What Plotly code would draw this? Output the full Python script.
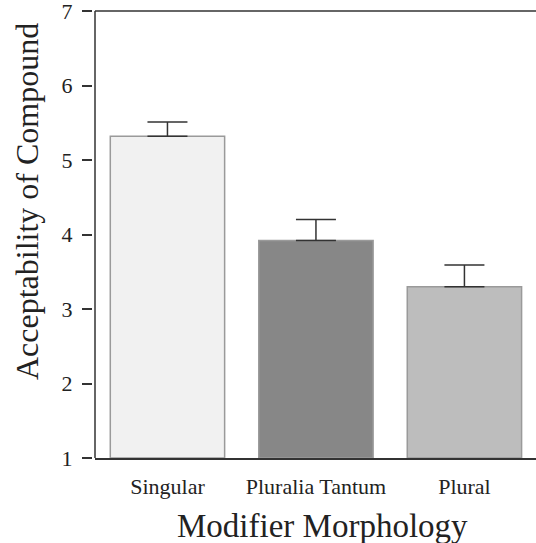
import plotly.graph_objects as go

categories = ["Singular", "Pluralia Tantum", "Plural"]
means = [5.32, 3.92, 3.30]
errors = [0.19, 0.28, 0.29]
colors = ["#f1f1f1", "#878787", "#bdbdbd"]
y_ticks = [1, 2, 3, 4, 5, 6, 7]

FONT = "Liberation Serif"

fig = go.Figure()
fig.add_trace(go.Bar(
    x=categories, y=[m - 1 for m in means], base=1,
    width=0.77,
    marker=dict(color=colors, line=dict(color="#9a9a9a", width=1.5)),
    error_y=dict(type="data", symmetric=False, array=errors,
                 arrayminus=[0, 0, 0], color="#333333", thickness=1.5, width=20),
    showlegend=False,
))

W, H = 536, 543
L, R, T = 92, 0, 11
B = H - 458
pw = W - L - R
ph = H - T - B
x0 = 3 / pw


def px_x(p):
    return (p - L) / pw


def px_y(p):
    return 1 - (p - T) / ph


fig.update_layout(
    width=W, height=H,
    margin=dict(l=L, r=R, t=T, b=B),
    plot_bgcolor="white", paper_bgcolor="white",
    font=dict(family=FONT, color="#222222"),
    xaxis=dict(
        domain=[x0, 1], range=[-0.488, 2.482], automargin=False,
        showline=True, linecolor="#333333", linewidth=1.5,
        ticks="", tickfont=dict(size=22, family=FONT),
        ticklabelstandoff=8,
        showgrid=False, zeroline=False,
    ),
    yaxis=dict(
        anchor="free", position=0, automargin=False,
        range=[1, 7], tickvals=y_ticks, ticklabeloverflow="allow",
        showline=False, ticks="outside", ticklen=10, tickwidth=1.5, tickcolor="#333333",
        tickfont=dict(size=22, family=FONT), ticklabelstandoff=5,
        showgrid=False, zeroline=False,
    ),
    shapes=[
        dict(type="line", xref="paper", yref="paper", x0=x0, x1=x0, y0=0, y1=1,
             line=dict(color="#333333", width=1.5)),
        dict(type="line", xref="paper", yref="paper", x0=x0, x1=1, y0=1, y1=1,
             line=dict(color="#333333", width=1.5)),
    ],
    annotations=[
        dict(text="Modifier Morphology", xref="paper", yref="paper",
             x=px_x(322), y=px_y(526), xanchor="center", yanchor="middle",
             showarrow=False, font=dict(size=33, family=FONT, color="#222222")),
        dict(text="Acceptability of Compound", xref="paper", yref="paper",
             x=px_x(27), y=px_y(202), xanchor="center", yanchor="middle", textangle=-90,
             showarrow=False, font=dict(size=32, family=FONT, color="#222222")),
    ],
)

fig.write_html("out.html", config={"displayModeBar": False},
               post_script="document.body.style.margin='0';document.body.style.overflow='hidden';")
